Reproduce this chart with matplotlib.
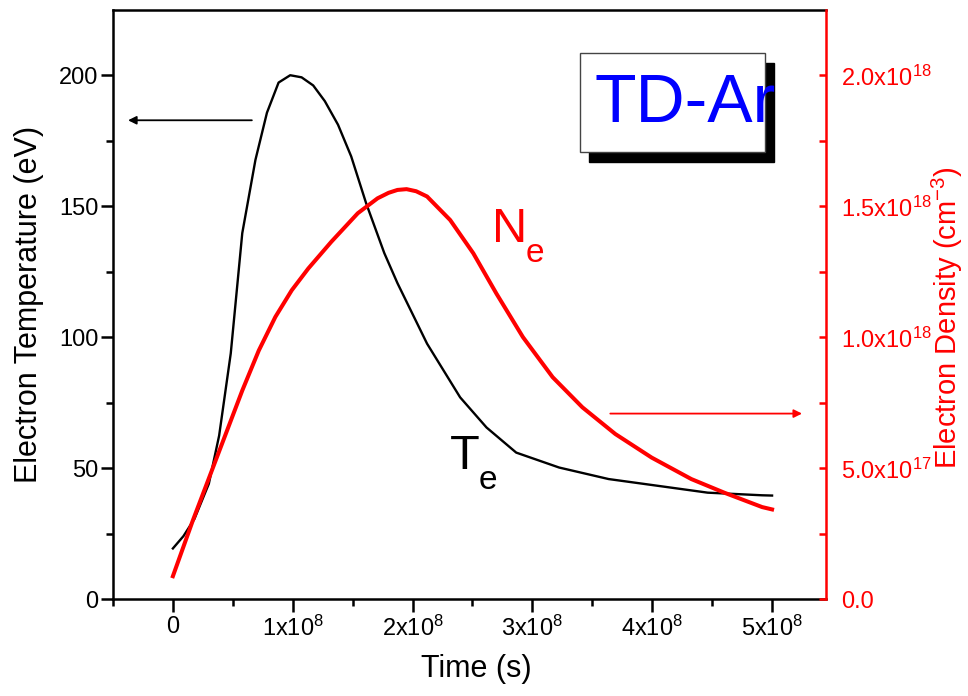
import numpy as np
import matplotlib
matplotlib.use('Agg')
import matplotlib.pyplot as plt
from matplotlib.patches import Rectangle

plt.rcParams['font.family'] = ['Liberation Sans', 'DejaVu Sans']
plt.rcParams['mathtext.default'] = 'regular'

# electron temperature, time in units of 1e8 s, Te in eV
te_time = [0, 0.088, 0.18, 0.30, 0.386, 0.483, 0.579, 0.689, 0.785, 0.882, 0.979,
           1.074, 1.171, 1.268, 1.378, 1.488, 1.612, 1.764, 1.874, 2.121, 2.397,
           2.617, 2.865, 3.223, 3.636, 4.05, 4.463, 4.917, 5.0]
te_values = [19.4, 24.1, 30.7, 44.1, 62.5, 93.9, 139.8, 167.8, 185.8, 197.3, 200.1,
             199.3, 196.2, 190.2, 181.2, 169.1, 151.3, 132.2, 120.7, 97.6, 77.1,
             65.6, 56.0, 50.3, 45.9, 43.3, 40.7, 39.7, 39.6]

# electron density, time in units of 1e8 s, Ne in units of 1e18 cm^-3
ne_time = [0, 0.165, 0.303, 0.441, 0.579, 0.717, 0.855, 0.992, 1.13, 1.322, 1.543,
           1.708, 1.80, 1.874, 1.95, 2.03, 2.121, 2.314, 2.507, 2.70, 2.921, 3.169, 3.417,
           3.692, 3.995, 4.326, 4.601, 4.917, 5.0]
ne_values = [0.088, 0.299, 0.465, 0.631, 0.797, 0.950, 1.078, 1.180, 1.263, 1.365, 1.474,
             1.531, 1.552, 1.563, 1.566, 1.558, 1.538, 1.448, 1.321, 1.167, 1.001, 0.848, 0.733,
             0.631, 0.541, 0.459, 0.407, 0.352, 0.343]

x_ticks = [0, 1, 2, 3, 4, 5]
x_tick_labels = ['0', '1x10$^8$', '2x10$^8$', '3x10$^8$', '4x10$^8$', '5x10$^8$']
ne_ticks = [0, 0.5, 1.0, 1.5, 2.0]
ne_tick_labels = ['0.0', '5.0x10$^{17}$', '1.0x10$^{18}$', '1.5x10$^{18}$', '2.0x10$^{18}$']

t_te = np.array(te_time) * 1e8
t_ne = np.array(ne_time) * 1e8
ne = np.array(ne_values) * 1e18

fig = plt.figure(figsize=(9.68, 6.96), dpi=100)
ax = fig.add_axes([0.1167, 0.139, 0.7366, 0.8466])
ax2 = ax.twinx()

ax.plot(t_te, te_values, color='black', lw=1.7)
ax2.plot(t_ne, ne, color='red', lw=2.9)

ax.set_xlim(-0.5e8, 5.45e8)
ax.set_ylim(0, 225)
ax2.set_ylim(0, 2.25e18)

ax.set_xticks(np.array(x_ticks) * 1e8)
ax.set_xticklabels(x_tick_labels)
ax.set_xticks(np.arange(-0.5, 5.1, 1.0) * 1e8, minor=True)
ax.set_yticks([0, 50, 100, 150, 200])
ax.set_yticks([25, 75, 125, 175], minor=True)
ax2.set_yticks(np.array(ne_ticks) * 1e18)
ax2.set_yticklabels(ne_tick_labels)
ax2.set_yticks(np.array([0.25, 0.75, 1.25, 1.75]) * 1e18, minor=True)

ax.tick_params(which='major', direction='out', length=9, width=1.8, labelsize=17, pad=1.5)
ax.tick_params(which='minor', direction='out', length=5, width=1.8)
ax.tick_params(axis='x', pad=3)
ax.tick_params(top=False, right=False, which='both')
ax2.tick_params(axis='y', which='both', direction='in', length=5, width=1.8,
                colors='red', labelsize=17, pad=11)

for side in ['left', 'bottom', 'top']:
    ax.spines[side].set_linewidth(1.8)
    ax2.spines[side].set_visible(False)
ax.spines['right'].set_visible(False)
ax2.spines['right'].set_color('red')
ax2.spines['right'].set_linewidth(1.8)

ax.set_xlabel('Time (s)', fontsize=22)
ax.xaxis.set_label_coords(0.51, -0.093)
ax.set_ylabel('Electron Temperature (eV)', fontsize=22)
ax.yaxis.set_label_coords(-0.097, 0.5)
ax2.set_ylabel('Electron Density (cm$^{-3}$)', fontsize=21, color='red')
ax2.yaxis.set_label_coords(1.146, 0.478)

# arrows pointing to the axes
ax.annotate('', xy=(-0.374e8, 182.9), xytext=(0.659e8, 182.9),
            arrowprops=dict(arrowstyle='-|>', color='black', lw=1.3,
                            mutation_scale=12, shrinkA=0, shrinkB=0))
ax2.annotate('', xy=(5.25e8, 0.709e18), xytext=(3.65e8, 0.709e18),
             arrowprops=dict(arrowstyle='-|>', color='red', lw=1.3,
                             mutation_scale=12, shrinkA=0, shrinkB=0))

# curve labels
ax.text(2.31e8, 49.8, 'T', fontsize=35, color='black', va='baseline')
ax.text(2.55e8, 42.1, 'e', fontsize=24, color='black', va='baseline')
ax.text(2.66e8, 136.5, 'N', fontsize=35, color='red', va='baseline')
ax.text(2.94e8, 128.7, 'e', fontsize=24, color='red', va='baseline')

# TD-Ar box with shadow
W, H = 968.0, 696.0
shadow = Rectangle((589 / W, 1 - 162 / H), 185 / W, 99 / H, transform=fig.transFigure,
                   facecolor='black', edgecolor='black', zorder=5)
box = Rectangle((580 / W, 1 - 152 / H), 185 / W, 99 / H, transform=fig.transFigure,
                facecolor='white', edgecolor='#444444', lw=1.0, zorder=6)
fig.add_artist(shadow)
fig.add_artist(box)
fig.text(595 / W, 1 - 121.7 / H, 'TD-Ar', fontsize=49, color='blue',
         ha='left', va='baseline', zorder=7)

fig.savefig('out.png', dpi=100)
